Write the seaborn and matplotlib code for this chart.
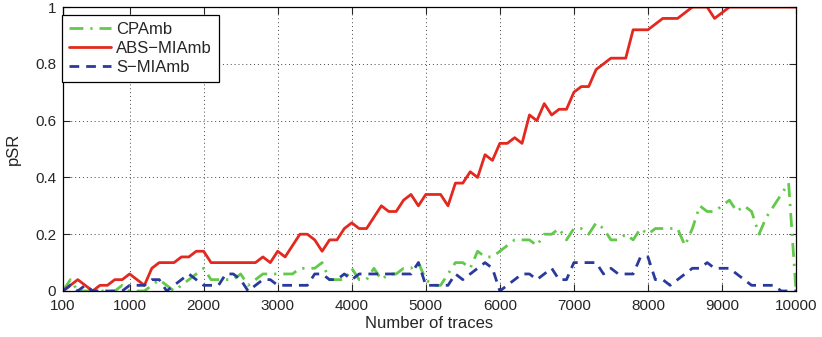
import matplotlib

matplotlib.use("Agg")
import matplotlib.pyplot as plt
import numpy as np
import pandas as pd
import seaborn as sns

OUTPUT = "out.png"

traces = list(range(100, 10001, 100))

cpa_amb = [
    0.00, 0.04, 0.00, 0.00, 0.00, 0.00, 0.00, 0.00, 0.02, 0.00,
    0.00, 0.00, 0.02, 0.04, 0.02, 0.00, 0.02, 0.04, 0.06, 0.08,
    0.04, 0.04, 0.04, 0.04, 0.06, 0.02, 0.04, 0.06, 0.06, 0.06,
    0.06, 0.06, 0.08, 0.08, 0.08, 0.10, 0.04, 0.04, 0.04, 0.08,
    0.04, 0.04, 0.08, 0.04, 0.06, 0.06, 0.08, 0.08, 0.10, 0.04,
    0.02, 0.02, 0.06, 0.10, 0.10, 0.08, 0.14, 0.12, 0.12, 0.14,
    0.16, 0.18, 0.18, 0.18, 0.16, 0.20, 0.20, 0.22, 0.18, 0.22,
    0.22, 0.20, 0.24, 0.22, 0.18, 0.18, 0.20, 0.18, 0.22, 0.20,
    0.22, 0.22, 0.22, 0.22, 0.16, 0.22, 0.30, 0.28, 0.28, 0.30,
    0.32, 0.28, 0.30, 0.28, 0.20, 0.26, 0.30, 0.34, 0.38, 0.00,
]

abs_miamb = [
    0.00, 0.02, 0.04, 0.02, 0.00, 0.02, 0.02, 0.04, 0.04, 0.06,
    0.04, 0.02, 0.08, 0.10, 0.10, 0.10, 0.12, 0.12, 0.14, 0.14,
    0.10, 0.10, 0.10, 0.10, 0.10, 0.10, 0.10, 0.12, 0.10, 0.14,
    0.12, 0.16, 0.20, 0.20, 0.18, 0.14, 0.18, 0.18, 0.22, 0.24,
    0.22, 0.22, 0.26, 0.30, 0.28, 0.28, 0.32, 0.34, 0.30, 0.34,
    0.34, 0.34, 0.30, 0.38, 0.38, 0.42, 0.40, 0.48, 0.46, 0.52,
    0.52, 0.54, 0.52, 0.62, 0.60, 0.66, 0.62, 0.64, 0.64, 0.70,
    0.72, 0.72, 0.78, 0.80, 0.82, 0.82, 0.82, 0.92, 0.92, 0.92,
    0.94, 0.96, 0.96, 0.96, 0.98, 1.00, 1.00, 1.00, 0.96, 0.98,
    1.00, 1.00, 1.00, 1.00, 1.00, 1.00, 1.00, 1.00, 1.00, 1.00,
]

s_miamb = [
    0.00, 0.02, 0.00, 0.02, 0.00, 0.00, 0.00, 0.00, 0.00, 0.02,
    0.02, 0.02, 0.04, 0.04, 0.00, 0.02, 0.04, 0.06, 0.04, 0.02,
    0.02, 0.02, 0.06, 0.06, 0.04, 0.00, 0.02, 0.04, 0.04, 0.02,
    0.02, 0.02, 0.02, 0.02, 0.06, 0.06, 0.04, 0.04, 0.06, 0.04,
    0.06, 0.06, 0.06, 0.06, 0.06, 0.06, 0.06, 0.06, 0.10, 0.02,
    0.02, 0.02, 0.02, 0.06, 0.04, 0.06, 0.08, 0.10, 0.08, 0.00,
    0.02, 0.04, 0.06, 0.06, 0.04, 0.06, 0.08, 0.04, 0.04, 0.10,
    0.10, 0.10, 0.10, 0.06, 0.08, 0.06, 0.06, 0.06, 0.12, 0.12,
    0.04, 0.04, 0.02, 0.04, 0.06, 0.08, 0.08, 0.10, 0.08, 0.08,
    0.08, 0.06, 0.04, 0.02, 0.02, 0.02, 0.02, 0.00, 0.00, 0.00,
]

series_names = ["CPAmb", "ABS\u2212MIAmb", "S\u2212MIAmb"]
x_ticks = [100, 1000, 2000, 3000, 4000, 5000, 6000, 7000, 8000, 9000, 10000]
y_ticks = [0, 0.2, 0.4, 0.6, 0.8, 1.0]
y_tick_labels = ["0", "0.2", "0.4", "0.6", "0.8", "1"]


def build_frame() -> pd.DataFrame:
    frames = []
    for name, values in zip(series_names, [cpa_amb, abs_miamb, s_miamb]):
        frames.append(pd.DataFrame({"traces": traces, "psr": values, "method": name}))
    return pd.concat(frames, ignore_index=True)


def main() -> None:
    sns.set_style("ticks")
    plt.rcParams["font.family"] = ["Liberation Sans", "DejaVu Sans"]
    plt.rcParams["font.size"] = 11

    df = build_frame()
    styles = {
        series_names[0]: dict(color="#62c94a", lw=2.0, dashes=(5, 2.5, 0.8, 2.5)),
        series_names[1]: dict(color="#e3291f", lw=2.0, dashes=None),
        series_names[2]: dict(color="#2a3a9c", lw=2.0, dashes=(3.5, 2.5)),
    }

    fig = plt.figure(figsize=(8.22, 3.37), dpi=100)
    ax = fig.add_axes([0.0766, 0.1365, 0.8918, 0.8425])

    for name in series_names:
        st = styles[name]
        sub = df[df["method"] == name]
        sns.lineplot(data=sub, x="traces", y="psr", ax=ax, color=st["color"],
                     linewidth=st["lw"], label=name, estimator=None)
        line = ax.get_lines()[-1]
        if st["dashes"] is not None:
            line.set_dashes(st["dashes"])

    ax.set_xlim(100, 10000)
    ax.set_ylim(0, 1)
    ax.set_xticks(x_ticks)
    ax.set_xticklabels([str(t) for t in x_ticks])
    ax.set_yticks(y_ticks)
    ax.set_yticklabels(y_tick_labels)
    ax.set_xlabel("Number of traces", fontsize=12, labelpad=2)
    ax.set_ylabel("pSR", fontsize=12, labelpad=10)

    ax.grid(True, linestyle=(0, (1, 3)), color="#444444", linewidth=0.7)
    ax.tick_params(direction="in", top=True, right=True, length=5,
                   width=0.8, labelsize=11)
    ax.tick_params(axis="x", pad=6)
    ax.tick_params(axis="y", pad=5)
    for spine in ax.spines.values():
        spine.set_linewidth(0.9)
        spine.set_color("black")

    leg = ax.legend(loc="upper left", bbox_to_anchor=(-0.001, 0.972),
                    frameon=True, fancybox=False, edgecolor="black",
                    handlelength=2.5, borderpad=0.4, labelspacing=0.25,
                    handletextpad=0.35, borderaxespad=0.0, fontsize=12)
    leg.get_frame().set_linewidth(0.9)
    leg.get_frame().set_alpha(1)

    fig.savefig(OUTPUT, dpi=100)
    plt.close(fig)


if __name__ == "__main__":
    main()
